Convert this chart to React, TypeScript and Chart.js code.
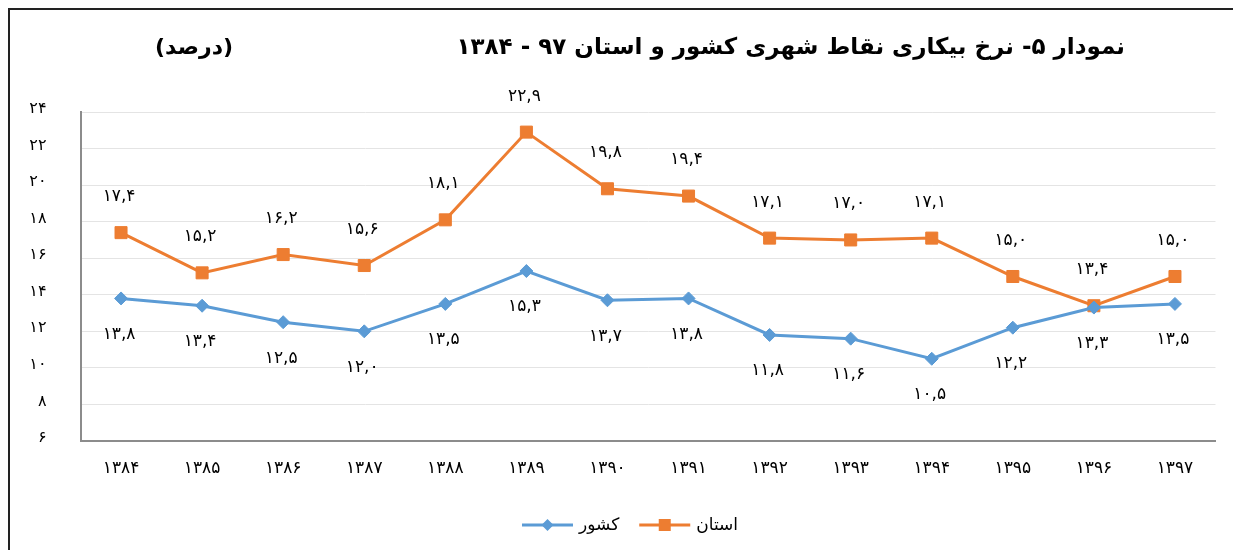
import React, { useEffect, useRef } from 'react';
import { Chart, registerables } from 'chart.js';

Chart.register(...registerables);

const years = ['۱۳۸۴', '۱۳۸۵', '۱۳۸۶', '۱۳۸۷', '۱۳۸۸', '۱۳۸۹', '۱۳۹۰', '۱۳۹۱', '۱۳۹۲', '۱۳۹۳', '۱۳۹۴', '۱۳۹۵', '۱۳۹۶', '۱۳۹۷'];
const countryValues = [13.8, 13.4, 12.5, 12.0, 13.5, 15.3, 13.7, 13.8, 11.8, 11.6, 10.5, 12.2, 13.3, 13.5];
const provinceValues = [17.4, 15.2, 16.2, 15.6, 18.1, 22.9, 19.8, 19.4, 17.1, 17.0, 17.1, 15.0, 13.4, 15.0];
const countryName = 'کشور';
const provinceName = 'استان';
const titleText = 'نمودار ۵- نرخ بیکاری نقاط شهری کشور و استان ۹۷ - ۱۳۸۴';
const unitText = '(درصد)';
const yMin = 6;
const yMax = 24;
const yStep = 2;

const BLUE = '#5B9BD5';
const ORANGE = '#ED7D31';
const FONT = "'DejaVu Sans', sans-serif";

const toFa = (s: string | number) => String(s).replace(/\d/g, (d) => '۰۱۲۳۴۵۶۷۸۹'[+d]);
const fmtLabel = (v: number) => toFa(v.toFixed(1)).replace('.', ',');

const decorPlugin = {
  id: 'decor',
  afterDatasetsDraw(chart: any) {
    const ctx = chart.ctx as CanvasRenderingContext2D;
    ctx.save();
    ctx.font = `17px ${FONT}`;
    ctx.fillStyle = '#000';
    ctx.textAlign = 'center';
    ctx.textBaseline = 'middle';
    chart.data.datasets.forEach((ds: any, di: number) => {
      const meta = chart.getDatasetMeta(di);
      const off = di === 0 ? 36 : -36;
      meta.data.forEach((pt: any, i: number) => {
        ctx.fillText(fmtLabel(ds.data[i]), pt.x - 2, pt.y + off);
      });
    });
    ctx.restore();
  },
  afterDraw(chart: any) {
    const ctx = chart.ctx as CanvasRenderingContext2D;
    ctx.save();
    ctx.direction = 'rtl';
    ctx.fillStyle = '#000';
    ctx.textBaseline = 'middle';
    ctx.font = `bold 23px ${FONT}`;
    ctx.textAlign = 'right';
    ctx.fillText(titleText, 1115, 38);
    ctx.font = `bold 22px ${FONT}`;
    ctx.textAlign = 'left';
    ctx.fillText(unitText, 145, 38);
    // legend
    ctx.font = `17px ${FONT}`;
    const items = [
      { name: countryName, color: BLUE, style: 'diamond' },
      { name: provinceName, color: ORANGE, style: 'square' },
    ];
    const lineW = 51;
    const gapText = 6;
    const gapItem = 20;
    const widths = items.map((it) => ctx.measureText(it.name).width);
    const total = items.reduce((a, _it, i) => a + lineW + gapText + widths[i], 0) + gapItem * (items.length - 1);
    let x = 620 - total / 2;
    const y = 515;
    items.forEach((it, i) => {
      ctx.strokeStyle = it.color;
      ctx.lineWidth = 3;
      ctx.beginPath();
      ctx.moveTo(x, y);
      ctx.lineTo(x + lineW, y);
      ctx.stroke();
      ctx.fillStyle = it.color;
      const cx = x + lineW / 2;
      ctx.beginPath();
      if (it.style === 'diamond') {
        ctx.moveTo(cx - 6, y);
        ctx.lineTo(cx, y - 6);
        ctx.lineTo(cx + 6, y);
        ctx.lineTo(cx, y + 6);
        ctx.closePath();
      } else {
        ctx.rect(cx - 6, y - 6, 12, 12);
      }
      ctx.fill();
      ctx.fillStyle = '#000';
      ctx.textAlign = 'left';
      ctx.direction = 'rtl';
      ctx.fillText(it.name, x + lineW + gapText, y + 1);
      x += lineW + gapText + widths[i] + gapItem;
    });
    ctx.restore();
  },
};

export default function App() {
  const ref = useRef<HTMLCanvasElement | null>(null);
  useEffect(() => {
    document.body.style.overflow = 'hidden';
    if (!ref.current) return;
    const chart = new Chart(ref.current, {
      type: 'line',
      data: {
        labels: years,
        datasets: [
          {
            label: countryName,
            data: countryValues,
            borderColor: BLUE,
            backgroundColor: BLUE,
            borderWidth: 3,
            pointStyle: 'rectRot',
            pointRadius: 6.5,
            pointBorderWidth: 1,
            pointBorderColor: BLUE,
            pointBackgroundColor: BLUE,
            tension: 0,
          },
          {
            label: provinceName,
            data: provinceValues,
            borderColor: ORANGE,
            backgroundColor: ORANGE,
            borderWidth: 3,
            pointStyle: 'rect',
            pointRadius: 8.5,
            pointBorderWidth: 1,
            pointBorderColor: ORANGE,
            pointBackgroundColor: ORANGE,
            tension: 0,
          },
        ],
      },
      options: {
        responsive: false,
        animation: false,
        layout: { padding: { top: 102, right: 25.5, bottom: 69, left: 0 } },
        plugins: {
          legend: { display: false },
          title: { display: false },
          tooltip: { enabled: false },
        },
        scales: {
          x: {
            type: 'category',
            offset: true,
            grid: { display: false, drawTicks: false },
            border: { display: true, color: '#8c8c8c', width: 2 },
            ticks: {
              color: '#000',
              font: { family: FONT, size: 17 },
              padding: 17,
              maxRotation: 0,
              autoSkip: false,
            },
            afterFit: (s: any) => {
              s.height = 40;
            },
          },
          y: {
            min: yMin,
            max: yMax,
            ticks: {
              stepSize: yStep,
              color: '#000',
              font: { family: FONT, size: 16 },
              padding: 34,
              labelOffset: -3,
              callback: (v: any) => toFa(v),
            },
            grid: { color: '#e4e4e4', lineWidth: 1, drawTicks: false },
            border: { display: true, color: '#8c8c8c', width: 2 },
            afterFit: (s: any) => {
              s.width = 70.5;
            },
          },
        },
      },
      plugins: [decorPlugin],
    } as any);
    return () => chart.destroy();
  }, []);

  return (
    <div
      style={{
        width: 1233,
        height: 542,
        borderTop: '2px solid #222',
        borderLeft: '2px solid #222',
        boxSizing: 'border-box',
        overflow: 'hidden',
        background: '#fff',
      }}
    >
      <canvas ref={ref} width={1231} height={540} style={{ display: 'block', width: 1231, height: 540 }} />
    </div>
  );
}
